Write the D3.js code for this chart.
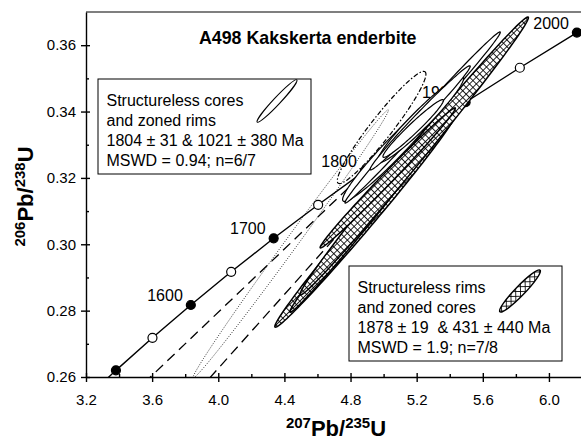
<!DOCTYPE html>
<html>
<head>
<meta charset="utf-8">
<script src="https://d3js.org/d3.v7.min.js"></script>
<style>
  body { margin: 0; background: #fff; }
  svg { display: block; font-family: "Liberation Sans", Arial, sans-serif; }
  .axis path, .axis line { stroke: #000; stroke-width: 1.4; }
  .axis text { font-size: 15px; fill: #000; }
  .age { font-size: 16px; }
  .legend text { font-size: 16px; white-space: pre; }
</style>
</head>
<body>
<div id="chart"></div>
<script>
// concordia points (207Pb/235U, 206Pb/238U) every 50 Ma
const ages     = [1450, 1500, 1550, 1600, 1650, 1700, 1750, 1800, 1850, 1900, 1950, 2000, 2050];
const conc207  = [3.171, 3.381, 3.602, 3.834, 4.078, 4.335, 4.604, 4.887, 5.184, 5.496, 5.824, 6.169, 6.530];
const conc206  = [0.2522, 0.2620, 0.2718, 0.2817, 0.2917, 0.3018, 0.3119, 0.3221, 0.3324, 0.3428, 0.3532, 0.3638, 0.3744];
const labelledAges = [1600, 1700, 1800, 1900, 2000];

// discordia lines: lower intercept -> upper intercept
const discordiaCores = [[1.733, 0.1716], [4.911, 0.3229]];   // 1021 & 1804 Ma
const discordiaRims  = [[0.529, 0.0692], [5.357, 0.3382]];   // 431 & 1878 Ma

// error ellipses: [207/235, 2s, 206/238, 2s, rho]
const rimEllipses = [              // structureless rims / zoned cores (hatched)
  [4.891, 0.549, 0.3073, 0.0323, 0.9933],
  [4.888, 0.455, 0.3073, 0.0278, 0.9947],
  [5.185, 0.691, 0.3266, 0.0419, 0.9954],
  [5.025, 0.409, 0.3200, 0.0211, 0.9936]
];
const coreEllipses = [             // structureless cores / zoned rims (open)
  [5.064, 0.312, 0.3290, 0.0161, 0.964],
  [5.236, 0.470, 0.3382, 0.0258, 0.9954],
  [5.224, 0.260, 0.3376, 0.0130, 0.956],
  [5.221, 0.303, 0.3381, 0.0157, 0.990],
  [5.179, 0.183, 0.3349, 0.0087, 0.971]
];
const excludedCore = [4.988, 0.268, 0.3352, 0.0169, 0.950];   // dash-dot
const excludedRim  = [4.438, 0.591, 0.3001, 0.0404, 0.997];   // dotted

const xTicks = [3.2, 3.6, 4.0, 4.4, 4.8, 5.2, 5.6, 6.0];
const yTicks = [0.26, 0.28, 0.30, 0.32, 0.34, 0.36];

const legendCores = ["Structureless cores", "and zoned rims", "1804 ± 31 & 1021 ± 380 Ma", "MSWD = 0.94; n=6/7"];
const legendRims  = ["Structureless rims", "and zoned cores", "1878 ± 19  & 431 ± 440 Ma", "MSWD = 1.9; n=7/8"];

const W = 581, H = 441;
const margin = { top: 12, left: 86, bottom: 64 };
const plotW = 496, plotH = H - margin.top - margin.bottom;

const svg = d3.select("#chart").append("svg")
  .attr("width", W).attr("height", H);

const defs = svg.append("defs");
defs.append("clipPath").attr("id", "plotclip")
  .append("rect").attr("width", plotW).attr("height", plotH);
const hs = 4.8;
const pat = defs.append("pattern").attr("id", "xhatch")
  .attr("width", hs).attr("height", hs)
  .attr("patternUnits", "userSpaceOnUse")
  .attr("patternTransform", "rotate(45)");
pat.append("rect").attr("width", hs).attr("height", hs).attr("fill", "#fff");
pat.append("line").attr("x1", 0).attr("y1", 0).attr("x2", hs).attr("y2", 0).attr("stroke", "#000").attr("stroke-width", 1.7);
pat.append("line").attr("x1", 0).attr("y1", 0).attr("x2", 0).attr("y2", hs).attr("stroke", "#000").attr("stroke-width", 1.7);

const g = svg.append("g").attr("transform", `translate(${margin.left},${margin.top})`);

const x = d3.scaleLinear().domain([3.2, 6.2]).range([0, plotW]);
const y = d3.scaleLinear().domain([0.26, 0.37]).range([plotH, 0]);

const plot = g.append("g").attr("clip-path", "url(#plotclip)");

// discordia (dashed)
const line = d3.line().x(d => x(d[0])).y(d => y(d[1]));
[discordiaCores, discordiaRims].forEach(d => {
  plot.append("path").attr("d", line(d))
    .attr("fill", "none").attr("stroke", "#000")
    .attr("stroke-width", 1.3).attr("stroke-dasharray", "10,6");
});

// concordia
const conc = ages.map((a, i) => ({ age: a, x: conc207[i], y: conc206[i] }));
plot.append("path").attr("d", d3.line().x(d => x(d.x)).y(d => y(d.y))(conc))
  .attr("fill", "none").attr("stroke", "#000").attr("stroke-width", 1.4);
plot.selectAll(".mk").data(conc).join("circle")
  .attr("cx", d => x(d.x)).attr("cy", d => y(d.y)).attr("r", 4.5)
  .attr("fill", d => d.age % 100 === 0 ? "#000" : "#fff")
  .attr("stroke", "#000").attr("stroke-width", 1.2);
plot.selectAll(".age").data(conc.filter(d => labelledAges.includes(d.age))).join("text")
  .attr("class", "age")
  .attr("x", d => x(d.x) - 8).attr("y", d => y(d.y) - 4)
  .attr("text-anchor", "end").text(d => d.age);

// error ellipses
function ellipsePath(e) {
  const [ex, sx, ey, sy, r] = e;
  const pts = d3.range(0, 120).map(i => {
    const t = i / 120 * 2 * Math.PI;
    return [ex + sx * Math.cos(t), ey + sy * (r * Math.cos(t) + Math.sqrt(1 - r * r) * Math.sin(t))];
  });
  return d3.line().x(d => x(d[0])).y(d => y(d[1])).curve(d3.curveLinearClosed)(pts);
}

plot.append("path").attr("d", ellipsePath(excludedRim))
  .attr("fill", "none").attr("stroke", "#000").attr("stroke-width", 0.8).attr("stroke-dasharray", "1,1.5");

rimEllipses.forEach(e => {
  plot.append("path").attr("d", ellipsePath(e))
    .attr("fill", "url(#xhatch)").attr("stroke", "#000").attr("stroke-width", 1.5);
});
coreEllipses.forEach(e => {
  plot.append("path").attr("d", ellipsePath(e))
    .attr("fill", "#fff").attr("stroke", "#000").attr("stroke-width", 1.2);
});
plot.append("path").attr("d", ellipsePath(excludedCore))
  .attr("fill", "none").attr("stroke", "#000").attr("stroke-width", 1.2).attr("stroke-dasharray", "5,2,1.5,2");

// axes
const yMinor = d3.range(0.27, 0.37, 0.02).map(v => +v.toFixed(2));
const xMinor = d3.range(3.4, 6.2, 0.4).map(v => +v.toFixed(1));

g.append("g").attr("class", "axis").attr("transform", `translate(0,${plotH})`)
  .call(d3.axisBottom(x).tickValues(xTicks).tickFormat(d3.format(".1f")).tickSizeInner(5).tickSizeOuter(0).tickPadding(12));
g.append("g").attr("class", "axis").attr("transform", `translate(0,${plotH})`)
  .call(d3.axisTop(x).tickValues(xTicks).tickFormat("").tickSize(4))
  .call(a => a.select(".domain").remove());
g.append("g").attr("class", "axis").attr("transform", `translate(0,${plotH})`)
  .call(d3.axisTop(x).tickValues(xMinor).tickFormat("").tickSize(3))
  .call(a => a.select(".domain").remove());

g.append("g").attr("class", "axis")
  .call(d3.axisLeft(y).tickValues(yTicks).tickFormat(d3.format(".2f")).tickSizeInner(5).tickSizeOuter(0).tickPadding(5));
g.append("g").attr("class", "axis")
  .call(d3.axisRight(y).tickValues(yTicks).tickFormat("").tickSize(4))
  .call(a => a.select(".domain").remove());
g.append("g").attr("class", "axis")
  .call(d3.axisRight(y).tickValues(yMinor).tickFormat("").tickSize(3))
  .call(a => a.select(".domain").remove());

g.append("line").attr("x1", 0).attr("x2", plotW).attr("y1", 0).attr("y2", 0)
  .attr("stroke", "#000").attr("stroke-width", 1.2);
g.append("line").attr("x1", plotW).attr("x2", plotW).attr("y1", 0).attr("y2", plotH)
  .attr("stroke", "#000").attr("stroke-width", 1.2);

// title
g.append("text").attr("x", 113).attr("y", 32)
  .attr("font-size", 17.8).attr("font-weight", "bold").text("A498 Kakskerta enderbite");

// axis titles
const xt = svg.append("text").attr("x", margin.left + plotW / 2 + 2).attr("y", 436)
  .attr("text-anchor", "middle").attr("font-weight", "bold").attr("font-size", 22);
xt.append("tspan").attr("font-size", 15).attr("dy", -8).text("207");
xt.append("tspan").attr("dy", 8).text("Pb/");
xt.append("tspan").attr("font-size", 15).attr("dy", -8).text("235");
xt.append("tspan").attr("dy", 8).text("U");

const yt = svg.append("text").attr("transform", `translate(33,${margin.top + plotH / 2 + 2}) rotate(-90)`)
  .attr("text-anchor", "middle").attr("font-weight", "bold").attr("font-size", 22);
yt.append("tspan").attr("font-size", 15).attr("dy", -8).text("206");
yt.append("tspan").attr("dy", 8).text("Pb/");
yt.append("tspan").attr("font-size", 15).attr("dy", -8).text("238");
yt.append("tspan").attr("dy", 8).text("U");

// legends
function legend(left, top, lines) {
  const lg = svg.append("g").attr("class", "legend").attr("transform", `translate(${left},${top})`);
  lg.append("rect").attr("width", 213).attr("height", 95)
    .attr("fill", "#fff").attr("stroke", "#000").attr("stroke-width", 1);
  lg.selectAll("text").data(lines).join("text")
    .attr("x", 8.5).attr("y", (d, i) => 27 + i * 19.9).text(d => d);
  return lg;
}
const l1 = legend(98, 79, legendCores);
l1.append("ellipse").attr("cx", 0).attr("cy", 0).attr("rx", 29).attr("ry", 3.5)
  .attr("transform", "translate(179,22) rotate(-47)")
  .attr("fill", "#fff").attr("stroke", "#000").attr("stroke-width", 1.1);
const l2 = legend(349, 266, legendRims);
l2.append("ellipse").attr("cx", 0).attr("cy", 0).attr("rx", 29).attr("ry", 4.8)
  .attr("transform", "translate(171,25) rotate(-46)")
  .attr("fill", "url(#xhatch)").attr("stroke", "#000").attr("stroke-width", 1.4);
</script>
</body>
</html>
